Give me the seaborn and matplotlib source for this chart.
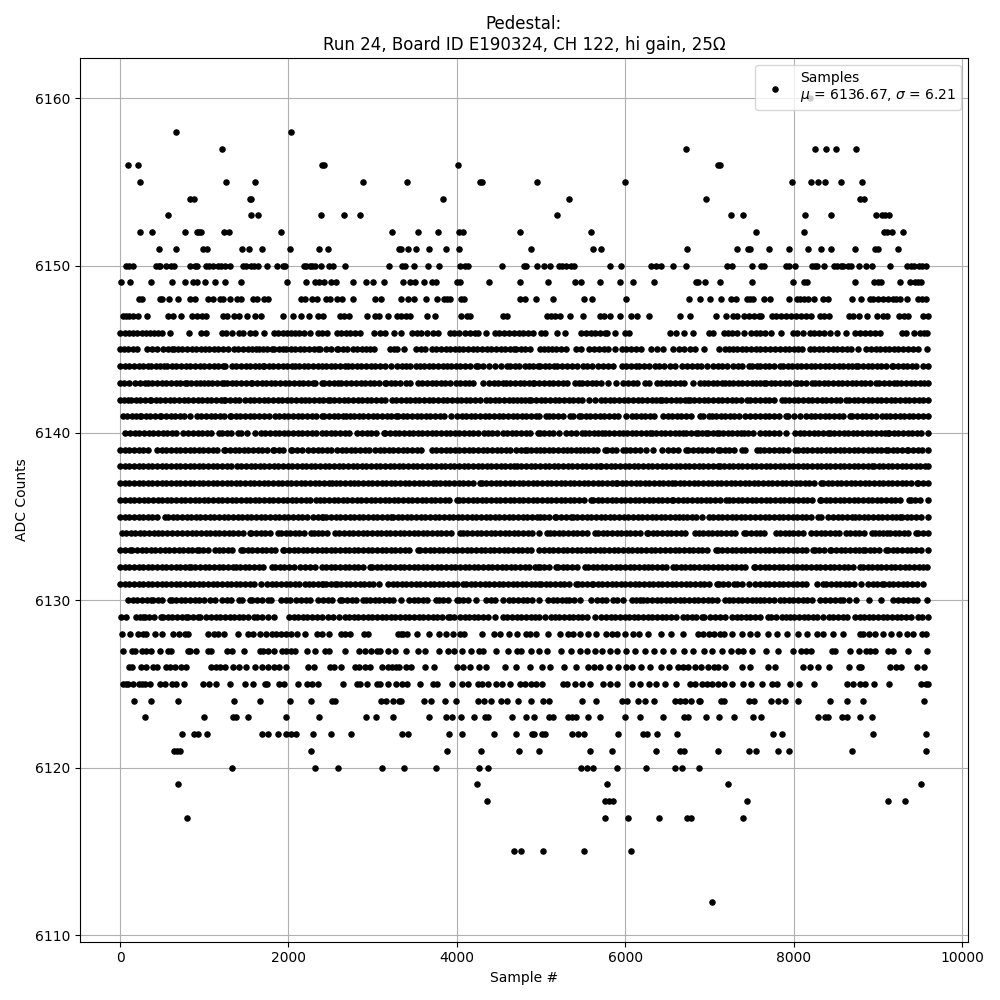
#imports
import matplotlib
matplotlib.use("Agg")
import matplotlib.pyplot as plt
import pandas as pd
import seaborn as sns

# sample numbers, one list per ADC level
# the solid bands (6129-6147) are read as visible runs, so fewer dots than the real samples
x_6160 = [8197]
x_6158 = [668, 2024]
x_6157 = [1208, 6725, 8246, 8377, 8496, 8734]
x_6156 = [92, 212, 2400, 2425, 4012, 7100, 7125]
x_6155 = [236, 1256, 1600, 2880, 3405, 4270, 4294, 4952, 6000, 7972, 8198, 8282, 8365, 8555, 8805]
x_6154 = [832, 884, 1540, 1560, 3833, 5333, 6960, 8782, 8829]
x_6153 = [572, 1556, 1640, 2384, 2656, 2848, 5190, 7258, 7401, 8127, 8436, 8972, 9044, 9080, 9127]
x_6152 = [236, 380, 776, 912, 936, 964, 1232, 1296, 1916, 3224, 3536, 3774, 4024, 4071, 4750, 5595,
          7556, 8115, 9067, 9103, 9166, 9294]
x_6151 = [464, 668, 984, 1032, 1448, 1532, 1688, 2012, 2360, 2468, 3308, 3340, 3417, 3512, 3667, 3869,
          4024, 4881, 5619, 5714, 6726, 7329, 7460, 7484, 7710, 7937, 8163, 8317, 8436, 8722, 8960, 8996, 9234]
x_6150 = [72, 112, 152, 432, 460, 480, 548, 608, 636, 836, 892, 916, 1016, 1052, 1104, 1164, 1200, 1244, 1300,
          1460, 1496, 1556, 1588, 1636, 1740, 1868, 1932, 1956, 2180, 2212, 2252, 2284, 2320, 2384, 2480, 2532,
          2672, 3188, 3349, 3389, 3488, 3655, 3786, 4036, 4099, 4135, 4536, 4798, 4821, 4952, 5036, 5107, 5214,
          5250, 5298, 5349, 5385, 5821, 5952, 6309, 6369, 6428, 6571, 6722, 7210, 7270, 7508, 7615, 7651, 7901,
          7937, 8008, 8210, 8246, 8270, 8353, 8472, 8508, 8555, 8579, 8639, 8675, 8770, 8853, 8925, 9139, 9341,
          9389, 9425, 9484, 9520, 9568]
x_6149 = [12, 120, 368, 620, 776, 868, 916, 1004, 1124, 1244, 1436, 1988, 2204, 2312, 2360, 2420, 2504, 2564,
          2768, 2924, 3008, 3128, 3357, 3440, 3500, 3607, 3702, 3750, 4000, 4036, 4381, 4750, 5083, 5405, 5476,
          5702, 5940, 6095, 6345, 6841, 6865, 6948, 7127, 7508, 7984, 8115, 8151, 8722, 8948, 8996, 9032, 9258,
          9377, 9437, 9472, 9508]
x_6148 = [224, 256, 472, 500, 584, 692, 836, 888, 1040, 1104, 1184, 1220, 1304, 1384, 1432, 1580, 1632, 1712,
          1756, 2152, 2192, 2276, 2336, 2440, 2488, 2576, 2640, 2768, 3032, 3104, 3337, 3417, 3488, 3631, 3762,
          3845, 3881, 3917, 4048, 4083, 4750, 4810, 4940, 5143, 5512, 5607, 6012, 6758, 6889, 7008, 7139, 7258,
          7317, 7448, 7484, 7520, 7651, 7722, 7937, 8032, 8067, 8115, 8163, 8234, 8341, 8401, 8686, 8794, 8901,
          8936, 8996, 9056, 9115, 9175, 9210, 9258, 9341, 9472, 9520, 9568]
x_6147 = [32, 72, 112, 152, 212, 320, 572, 624, 728, 860, 912, 972, 1016, 1220, 1272, 1352, 1412, 1512, 1604,
          1676, 1940, 2048, 2144, 2240, 2352, 2412, 2609, 2656, 2720, 2933, 3024, 3075, 3182, 3288, 3340, 3399,
          3446, 3644, 3739, 4047, 4118, 4153, 4545, 4592, 5069, 5121, 5169, 5220, 5343, 5498, 5697, 5748, 5820,
          5939, 6070, 6137, 6284, 6653, 6761, 7070, 7189, 7273, 7324, 7404, 7463, 7523, 7582, 7612, 7739, 7790,
          7850, 7910, 7969, 8029, 8088, 8148, 8207, 8307, 8358, 8418, 8656, 8704, 8775, 8870, 8989, 9053, 9108,
          9251, 9307, 9359, 9529, 9589]
x_6146 = [5, 55, 105, 155, 205, 255, 305, 355, 405, 450, 500, 596, 816, 960, 1024, 1212, 1260, 1332, 1412, 1464,
          1544, 1600, 1712, 1832, 1880, 1930, 1985, 2030, 2072, 2130, 2190, 2250, 2352, 2392, 2459, 2577, 2625,
          2680, 2727, 2787, 2854, 3012, 3083, 3142, 3249, 3340, 3470, 3520, 3577, 3644, 3715, 3778, 3913, 3970,
          4030, 4090, 4150, 4210, 4248, 4339, 4446, 4500, 4560, 4620, 4680, 4734, 4781, 4840, 4900, 5002, 5042,
          5192, 5284, 5478, 5530, 5590, 5640, 5700, 5760, 5776, 5871, 5990, 6046, 6530, 6602, 6697, 6800, 6987,
          7038, 7166, 7215, 7270, 7330, 7404, 7491, 7550, 7602, 7660, 7730, 7850, 7989, 8040, 8108, 8187, 8240,
          8300, 8360, 8430, 8517, 8624, 8723, 8780, 8840, 8900, 8960, 9020, 9280, 9330, 9426, 9498, 9540, 9585]
x_6145 = [0, 50, 100, 150, 200, 320, 380, 440, 512, 565, 612, 640, 690, 732, 792, 850, 905, 960, 1010, 1052, 1112,
          1165, 1220, 1280, 1352, 1404, 1460, 1515, 1570, 1612, 1644, 1700, 1750, 1800, 1832, 1885, 1932, 1972,
          2025, 2080, 2135, 2190, 2245, 2300, 2352, 2372, 2443, 2502, 2570, 2590, 2645, 2700, 2767, 2814, 2870,
          2920, 2965, 3012, 3201, 3250, 3292, 3367, 3517, 3570, 3616, 3703, 3755, 3810, 3865, 3920, 3975, 4030,
          4070, 4130, 4185, 4240, 4300, 4359, 4410, 4465, 4520, 4575, 4630, 4683, 4702, 4755, 4810, 4868, 4982,
          5035, 5081, 5133, 5172, 5235, 5300, 5411, 5478, 5570, 5625, 5685, 5744, 5788, 5879, 5955, 6010, 6065,
          6120, 6181, 6300, 6370, 6443, 6570, 6641, 6700, 6765, 6828, 6939, 7110, 7185, 7235, 7277, 7324, 7380,
          7435, 7490, 7545, 7602, 7660, 7720, 7775, 7830, 7898, 7941, 8000, 8050, 8100, 8187, 8240, 8295, 8350,
          8405, 8460, 8515, 8570, 8625, 8680, 8763, 8862, 8915, 8970, 9025, 9080, 9135, 9190, 9240, 9300, 9360,
          9420, 9478, 9577]
x_6144 = [0, 55, 110, 165, 220, 275, 332, 372, 425, 480, 524, 560, 615, 670, 725, 780, 835, 890, 945, 1000, 1055,
          1110, 1165, 1220, 1252, 1324, 1380, 1435, 1490, 1545, 1600, 1655, 1692, 1712, 1765, 1820, 1875, 1930,
          1985, 2040, 2072, 2125, 2180, 2235, 2290, 2345, 2392, 2445, 2500, 2555, 2610, 2665, 2708, 2755, 2810,
          2865, 2920, 2975, 3030, 3085, 3150, 3213, 3288, 3345, 3399, 3438, 3510, 3557, 3610, 3665, 3720, 3775,
          3830, 3885, 3932, 3984, 4040, 4095, 4150, 4228, 4248, 4310, 4375, 4446, 4525, 4592, 4631, 4690, 4742,
          4813, 4860, 4900, 4959, 4982, 5040, 5095, 5150, 5188, 5252, 5310, 5365, 5420, 5498, 5546, 5609, 5677,
          5735, 5790, 5855, 5955, 6010, 6065, 6120, 6161, 6225, 6285, 6352, 6403, 6460, 6525, 6590, 6677, 6735,
          6790, 6845, 6896, 6967, 7038, 7095, 7150, 7210, 7277, 7332, 7390, 7463, 7503, 7560, 7602, 7655, 7710,
          7770, 7830, 7870, 7925, 7980, 8035, 8090, 8145, 8200, 8255, 8310, 8365, 8420, 8475, 8530, 8585, 8640,
          8695, 8743, 8763, 8820, 8875, 8930, 8985, 9040, 9095, 9160, 9180, 9235, 9290, 9345, 9400, 9455, 9529, 9589]
x_6143 = [0, 52, 112, 172, 232, 292, 332, 385, 440, 495, 550, 605, 660, 715, 772, 792, 845, 900, 955, 1000, 1040,
          1095, 1150, 1205, 1240, 1272, 1325, 1380, 1435, 1490, 1552, 1572, 1625, 1680, 1735, 1790, 1845, 1900,
          1955, 2010, 2065, 2120, 2175, 2230, 2292, 2312, 2392, 2425, 2480, 2535, 2590, 2629, 2688, 2747, 2800,
          2855, 2910, 2965, 3020, 3075, 3142, 3162, 3215, 3270, 3325, 3399, 3438, 3537, 3590, 3645, 3700, 3755,
          3810, 3853, 3913, 3991, 4039, 4095, 4142, 4189, 4315, 4379, 4435, 4490, 4545, 4584, 4635, 4690, 4745,
          4800, 4855, 4900, 4920, 4980, 5035, 5090, 5145, 5200, 5255, 5310, 5399, 5450, 5490, 5545, 5600, 5655,
          5710, 5796, 5887, 5975, 6030, 6085, 6140, 6232, 6284, 6371, 6425, 6480, 6535, 6590, 6645, 6697, 6808,
          6880, 6935, 6979, 7035, 7090, 7145, 7185, 7225, 7280, 7335, 7390, 7445, 7500, 7555, 7602, 7651, 7671,
          7725, 7780, 7835, 7890, 7945, 8009, 8037, 8090, 8145, 8219, 8247, 8300, 8355, 8410, 8465, 8520, 8575,
          8630, 8685, 8740, 8795, 8850, 8905, 8981, 9013, 9070, 9125, 9192, 9220, 9275, 9330, 9385, 9440, 9495, 9550, 9589]
x_6142 = [0, 50, 92, 132, 185, 240, 295, 352, 372, 425, 480, 535, 590, 645, 700, 755, 810, 865, 920, 975, 1030,
          1085, 1140, 1195, 1232, 1252, 1305, 1360, 1415, 1484, 1540, 1595, 1650, 1705, 1760, 1815, 1870, 1925,
          1980, 2035, 2090, 2145, 2200, 2240, 2304, 2360, 2415, 2471, 2490, 2545, 2600, 2655, 2710, 2765, 2820,
          2875, 2930, 2985, 3040, 3095, 3150, 3229, 3280, 3335, 3390, 3445, 3500, 3555, 3610, 3665, 3720, 3775,
          3830, 3885, 3940, 3995, 4050, 4105, 4160, 4215, 4270, 4339, 4394, 4450, 4505, 4560, 4615, 4670, 4710,
          4762, 4810, 4853, 4884, 4940, 4995, 5050, 5105, 5160, 5215, 5270, 5325, 5380, 5435, 5490, 5570, 5637,
          5705, 5760, 5815, 5870, 5925, 5980, 6035, 6090, 6145, 6200, 6255, 6310, 6365, 6411, 6431, 6485, 6540,
          6595, 6650, 6705, 6749, 6768, 6820, 6875, 6930, 6985, 7040, 7095, 7150, 7205, 7260, 7315, 7370, 7443,
          7483, 7540, 7602, 7655, 7710, 7765, 7862, 7890, 7945, 8000, 8055, 8110, 8165, 8220, 8275, 8330, 8385,
          8440, 8495, 8550, 8624, 8656, 8710, 8765, 8820, 8875, 8930, 8985, 9040, 9095, 9150, 9205, 9260, 9315,
          9370, 9425, 9480, 9535, 9589]
x_6141 = [32, 85, 140, 195, 232, 252, 305, 360, 415, 472, 492, 545, 600, 655, 710, 765, 832, 912, 965, 1020, 1075,
          1130, 1185, 1240, 1300, 1320, 1375, 1430, 1485, 1540, 1595, 1650, 1705, 1772, 1844, 1892, 1945, 2000,
          2055, 2110, 2165, 2220, 2275, 2330, 2392, 2425, 2480, 2535, 2590, 2645, 2688, 2727, 2780, 2835, 2890,
          2945, 3000, 3055, 3110, 3165, 3220, 3280, 3300, 3355, 3410, 3465, 3520, 3575, 3630, 3685, 3740, 3795,
          3850, 3932, 4003, 4055, 4110, 4165, 4220, 4275, 4330, 4385, 4440, 4495, 4550, 4605, 4660, 4715, 4770,
          4825, 4880, 4935, 4980, 5061, 5093, 5145, 5200, 5255, 5347, 5379, 5450, 5478, 5530, 5585, 5640, 5695,
          5750, 5805, 5860, 5915, 6006, 6074, 6125, 6180, 6235, 6290, 6345, 6443, 6502, 6555, 6610, 6665, 6720,
          6775, 6888, 6927, 6987, 7026, 7074, 7130, 7185, 7240, 7295, 7352, 7423, 7480, 7535, 7602, 7655, 7710,
          7765, 7820, 7902, 7929, 8000, 8076, 8148, 8200, 8255, 8310, 8365, 8420, 8475, 8530, 8585, 8672, 8696,
          8750, 8805, 8860, 8915, 8970, 9041, 9093, 9145, 9200, 9255, 9310, 9365, 9420, 9475, 9530, 9589]
x_6140 = [64, 120, 175, 230, 285, 340, 395, 450, 505, 560, 615, 670, 752, 812, 865, 920, 975, 1030, 1085, 1172,
          1212, 1265, 1320, 1400, 1432, 1512, 1600, 1672, 1725, 1780, 1835, 1890, 1944, 2000, 2055, 2110, 2165,
          2220, 2275, 2330, 2392, 2445, 2500, 2555, 2610, 2665, 2720, 2814, 2878, 2930, 2985, 3040, 3130, 3150,
          3205, 3260, 3315, 3370, 3425, 3480, 3535, 3590, 3645, 3700, 3755, 3810, 3865, 3920, 3975, 4030, 4085,
          4140, 4195, 4250, 4327, 4367, 4420, 4475, 4544, 4596, 4650, 4705, 4760, 4815, 4870, 4959, 4982, 5035,
          5090, 5145, 5212, 5300, 5355, 5410, 5490, 5518, 5570, 5625, 5680, 5724, 5756, 5810, 5865, 5927, 5967,
          6020, 6075, 6130, 6185, 6240, 6292, 6312, 6365, 6420, 6475, 6530, 6585, 6640, 6689, 6717, 6775, 6840,
          6860, 6915, 6955, 6979, 7035, 7086, 7106, 7160, 7215, 7270, 7325, 7372, 7404, 7460, 7515, 7602, 7655,
          7710, 7765, 7820, 7902, 8013, 8070, 8125, 8180, 8235, 8290, 8345, 8406, 8426, 8480, 8535, 8590, 8645,
          8700, 8755, 8810, 8865, 8920, 8975, 9030, 9085, 9120, 9132, 9185, 9240, 9295, 9350, 9405, 9460, 9515, 9589]
x_6139 = [0, 55, 110, 165, 220, 275, 332, 440, 495, 550, 605, 660, 715, 770, 825, 880, 935, 990, 1045, 1100, 1155,
          1232, 1252, 1305, 1360, 1415, 1470, 1525, 1580, 1635, 1690, 1745, 1812, 1832, 1885, 1940, 2024, 2044,
          2100, 2155, 2232, 2292, 2345, 2392, 2459, 2510, 2577, 2630, 2685, 2740, 2795, 2850, 2905, 2960, 3024,
          3083, 3135, 3190, 3245, 3300, 3355, 3410, 3465, 3525, 3569, 3703, 3755, 3810, 3865, 3920, 3975, 4030,
          4085, 4140, 4195, 4250, 4305, 4360, 4415, 4470, 4525, 4580, 4635, 4702, 4760, 4809, 4829, 4885, 4940,
          4982, 5035, 5090, 5145, 5200, 5255, 5310, 5359, 5411, 5465, 5510, 5558, 5610, 5665, 5756, 5784, 5836,
          5890, 5975, 6006, 6060, 6115, 6170, 6244, 6332, 6431, 6510, 6565, 6620, 6721, 6749, 6805, 6860, 6915,
          6970, 7025, 7098, 7126, 7180, 7235, 7290, 7384, 7423, 7563, 7602, 7650, 7699, 7763, 7820, 7875, 7930,
          8009, 8049, 8105, 8160, 8215, 8270, 8325, 8380, 8435, 8490, 8545, 8600, 8655, 8710, 8765, 8820, 8875,
          8930, 8985, 9040, 9093, 9120, 9175, 9230, 9285, 9339, 9359, 9415, 9470, 9525, 9589]
x_6138 = [0, 55, 110, 165, 220, 275, 330, 385, 440, 495, 550, 605, 660, 715, 770, 825, 880, 935, 990, 1045, 1100,
          1155, 1210, 1264, 1312, 1384, 1440, 1495, 1550, 1605, 1660, 1715, 1770, 1825, 1880, 1935, 1990, 2045,
          2100, 2155, 2210, 2265, 2320, 2375, 2430, 2485, 2540, 2595, 2650, 2705, 2760, 2815, 2870, 2925, 2980,
          3035, 3090, 3145, 3200, 3255, 3310, 3365, 3420, 3475, 3530, 3585, 3640, 3695, 3750, 3805, 3860, 3915,
          3970, 4025, 4080, 4135, 4190, 4245, 4300, 4355, 4410, 4465, 4520, 4575, 4630, 4683, 4710, 4765, 4820,
          4875, 4930, 4985, 5040, 5095, 5150, 5205, 5260, 5315, 5370, 5425, 5480, 5535, 5590, 5645, 5697, 5716,
          5770, 5825, 5880, 5935, 5990, 6045, 6100, 6155, 6210, 6265, 6320, 6375, 6430, 6485, 6540, 6595, 6650,
          6705, 6760, 6815, 6870, 6925, 6980, 7035, 7094, 7118, 7170, 7225, 7280, 7335, 7390, 7445, 7500, 7555,
          7610, 7665, 7720, 7775, 7830, 7885, 7940, 7995, 8050, 8105, 8160, 8215, 8270, 8325, 8380, 8435, 8490,
          8545, 8600, 8655, 8710, 8765, 8820, 8875, 8922, 8950, 9005, 9060, 9115, 9170, 9225, 9280, 9335, 9390,
          9445, 9500, 9555, 9589]
x_6137 = [0, 55, 110, 165, 220, 275, 330, 385, 440, 495, 550, 605, 660, 715, 770, 825, 880, 935, 990, 1045, 1100,
          1155, 1210, 1265, 1320, 1375, 1430, 1485, 1540, 1595, 1650, 1705, 1760, 1815, 1870, 1925, 1980, 2035,
          2090, 2145, 2200, 2255, 2310, 2365, 2420, 2475, 2522, 2562, 2615, 2670, 2727, 2775, 2830, 2885, 2940,
          2995, 3050, 3105, 3160, 3215, 3270, 3325, 3380, 3435, 3490, 3545, 3600, 3655, 3715, 3747, 3800, 3855,
          3910, 3965, 4020, 4075, 4130, 4185, 4268, 4296, 4350, 4405, 4460, 4515, 4570, 4625, 4680, 4735, 4790,
          4845, 4900, 4955, 5010, 5065, 5120, 5175, 5230, 5285, 5340, 5395, 5450, 5505, 5560, 5615, 5670, 5725,
          5780, 5835, 5887, 5903, 5955, 6010, 6065, 6120, 6175, 6230, 6285, 6340, 6395, 6450, 6505, 6550, 6590,
          6645, 6700, 6755, 6810, 6865, 6920, 6975, 7030, 7085, 7140, 7195, 7250, 7305, 7360, 7415, 7470, 7525,
          7580, 7635, 7690, 7745, 7800, 7855, 7910, 7965, 8020, 8075, 8130, 8185, 8240, 8326, 8346, 8400, 8455,
          8510, 8565, 8620, 8675, 8730, 8785, 8840, 8895, 8950, 9005, 9060, 9115, 9170, 9225, 9280, 9335, 9390,
          9458, 9478, 9530, 9589]
x_6136 = [4, 60, 115, 170, 225, 280, 335, 390, 445, 500, 555, 610, 665, 720, 775, 830, 885, 940, 995, 1050, 1105,
          1160, 1215, 1270, 1325, 1380, 1435, 1490, 1545, 1600, 1655, 1710, 1765, 1820, 1875, 1930, 1985, 2040,
          2095, 2150, 2205, 2260, 2332, 2372, 2425, 2480, 2535, 2590, 2645, 2700, 2755, 2810, 2865, 2920, 2975,
          3030, 3085, 3140, 3195, 3250, 3305, 3360, 3415, 3470, 3525, 3580, 3635, 3690, 3745, 3800, 3855, 3910,
          4003, 4023, 4075, 4130, 4185, 4240, 4295, 4350, 4405, 4460, 4515, 4570, 4625, 4680, 4735, 4790, 4845,
          4900, 4955, 5010, 5065, 5120, 5175, 5230, 5285, 5340, 5395, 5450, 5505, 5597, 5617, 5670, 5725, 5780,
          5835, 5890, 5945, 6000, 6055, 6110, 6165, 6220, 6275, 6330, 6385, 6440, 6495, 6550, 6570, 6625, 6680,
          6735, 6790, 6845, 6900, 6955, 7010, 7065, 7120, 7193, 7225, 7280, 7335, 7390, 7445, 7500, 7555, 7610,
          7665, 7720, 7775, 7830, 7885, 7940, 7995, 8050, 8105, 8160, 8215, 8307, 8326, 8380, 8435, 8490, 8545,
          8600, 8655, 8710, 8765, 8820, 8875, 8930, 8985, 9040, 9095, 9150, 9205, 9260, 9366, 9386, 9440, 9495, 9589]
x_6135 = [0, 55, 110, 165, 220, 275, 330, 385, 440, 532, 572, 625, 680, 735, 790, 845, 900, 955, 1010, 1065, 1120,
          1175, 1230, 1285, 1340, 1395, 1450, 1505, 1560, 1615, 1670, 1725, 1780, 1835, 1890, 1945, 2000, 2055,
          2110, 2165, 2220, 2292, 2352, 2392, 2411, 2451, 2505, 2560, 2615, 2670, 2725, 2780, 2835, 2890, 2945,
          3000, 3055, 3110, 3165, 3221, 3241, 3295, 3350, 3405, 3460, 3515, 3570, 3625, 3680, 3735, 3790, 3845,
          3900, 3955, 4010, 4065, 4120, 4175, 4230, 4285, 4340, 4395, 4450, 4505, 4560, 4615, 4670, 4725, 4780,
          4835, 4890, 4945, 4982, 5035, 5090, 5161, 5180, 5235, 5290, 5359, 5379, 5430, 5485, 5540, 5595, 5650,
          5705, 5760, 5815, 5870, 5925, 5980, 6035, 6090, 6145, 6200, 6255, 6310, 6365, 6420, 6475, 6530, 6585,
          6640, 6689, 6729, 6785, 6840, 6915, 6987, 7040, 7095, 7150, 7205, 7260, 7315, 7370, 7425, 7480, 7535,
          7602, 7655, 7710, 7765, 7820, 7875, 7930, 7985, 8040, 8095, 8150, 8205, 8287, 8326, 8406, 8465, 8520,
          8575, 8630, 8685, 8731, 8775, 8830, 8885, 8940, 8995, 9050, 9105, 9160, 9215, 9260, 9287, 9340, 9395,
          9450, 9505, 9589]
x_6134 = [20, 72, 125, 180, 235, 290, 345, 400, 452, 504, 560, 615, 680, 740, 795, 850, 905, 960, 1015, 1070, 1125,
          1180, 1235, 1290, 1345, 1400, 1455, 1544, 1560, 1615, 1670, 1725, 1780, 1872, 1912, 1965, 2020, 2075,
          2130, 2185, 2272, 2300, 2355, 2392, 2459, 2550, 2605, 2660, 2715, 2770, 2825, 2880, 2935, 2990, 3045,
          3100, 3155, 3210, 3265, 3320, 3375, 3430, 3485, 3540, 3595, 3650, 3705, 3760, 3815, 3870, 3925, 4031,
          4070, 4125, 4180, 4235, 4290, 4345, 4400, 4455, 4510, 4565, 4620, 4675, 4730, 4785, 4840, 4895, 4980,
          5069, 5101, 5155, 5210, 5265, 5320, 5375, 5430, 5485, 5540, 5637, 5677, 5730, 5785, 5840, 5895, 5950,
          6005, 6060, 6115, 6170, 6252, 6272, 6325, 6380, 6435, 6490, 6545, 6600, 6655, 6710, 6828, 6868, 6920,
          6975, 7030, 7085, 7140, 7195, 7250, 7305, 7404, 7435, 7490, 7545, 7602, 7640, 7790, 7840, 7890, 7941,
          7995, 8050, 8105, 8207, 8267, 8320, 8375, 8430, 8485, 8540, 8624, 8664, 8720, 8775, 8830, 8922, 8962,
          9013, 9060, 9108, 9140, 9195, 9250, 9305, 9360, 9450, 9478, 9530, 9589]
x_6133 = [0, 55, 120, 144, 200, 255, 310, 365, 420, 475, 530, 585, 640, 695, 750, 805, 860, 912, 932, 985, 1040,
          1132, 1172, 1225, 1280, 1335, 1432, 1460, 1515, 1570, 1625, 1680, 1735, 1790, 1845, 1932, 1952, 2005,
          2060, 2115, 2170, 2225, 2280, 2335, 2392, 2445, 2500, 2555, 2610, 2665, 2720, 2775, 2830, 2885, 2940,
          2995, 3050, 3105, 3160, 3215, 3270, 3325, 3380, 3435, 3537, 3565, 3620, 3675, 3730, 3785, 3840, 3895,
          3950, 4005, 4060, 4115, 4170, 4225, 4280, 4335, 4390, 4445, 4500, 4555, 4610, 4665, 4720, 4775, 4830,
          4885, 4980, 5035, 5090, 5145, 5200, 5255, 5310, 5365, 5420, 5475, 5530, 5585, 5640, 5695, 5750, 5805,
          5860, 5915, 5970, 6025, 6080, 6135, 6190, 6245, 6300, 6355, 6410, 6465, 6530, 6590, 6641, 6695, 6750,
          6805, 6860, 6915, 6970, 7074, 7098, 7150, 7205, 7260, 7315, 7370, 7425, 7480, 7535, 7602, 7655, 7710,
          7765, 7820, 7875, 7930, 7985, 8040, 8095, 8150, 8227, 8247, 8300, 8355, 8426, 8446, 8500, 8555, 8610,
          8665, 8720, 8775, 8823, 8847, 8900, 8955, 9010, 9093, 9120, 9175, 9230, 9285, 9340, 9395, 9450, 9505, 9589]
x_6132 = [0, 55, 110, 165, 220, 275, 330, 385, 440, 495, 550, 605, 660, 715, 770, 820, 840, 895, 950, 1005, 1060,
          1115, 1170, 1225, 1280, 1344, 1372, 1425, 1480, 1535, 1590, 1645, 1700, 1800, 1840, 1895, 1950, 2005,
          2060, 2140, 2200, 2255, 2310, 2392, 2445, 2500, 2555, 2610, 2665, 2720, 2775, 2830, 2885, 2964, 2992,
          3045, 3100, 3155, 3210, 3265, 3320, 3375, 3430, 3485, 3540, 3595, 3650, 3705, 3760, 3815, 3870, 3925,
          3980, 4035, 4090, 4145, 4200, 4255, 4310, 4365, 4420, 4475, 4530, 4585, 4640, 4695, 4750, 4805, 4860,
          4932, 4959, 4982, 5035, 5090, 5180, 5200, 5255, 5310, 5365, 5420, 5526, 5558, 5610, 5665, 5720, 5775,
          5830, 5885, 5940, 5995, 6050, 6105, 6160, 6215, 6272, 6320, 6375, 6430, 6485, 6570, 6602, 6655, 6710,
          6765, 6820, 6875, 6930, 6985, 7040, 7095, 7150, 7205, 7260, 7315, 7370, 7425, 7523, 7543, 7602, 7655,
          7710, 7765, 7820, 7875, 7930, 7985, 8040, 8095, 8150, 8205, 8260, 8315, 8370, 8425, 8480, 8535, 8590,
          8645, 8700, 8791, 8823, 8875, 8930, 8985, 9040, 9095, 9150, 9205, 9260, 9315, 9370, 9425, 9480, 9537, 9577]
x_6131 = [0, 55, 110, 165, 220, 275, 330, 385, 440, 495, 550, 605, 660, 715, 770, 825, 880, 935, 990, 1045, 1100,
          1155, 1210, 1265, 1320, 1375, 1430, 1485, 1540, 1595, 1672, 1744, 1800, 1855, 1910, 1965, 2020, 2075,
          2130, 2200, 2240, 2295, 2350, 2392, 2411, 2443, 2500, 2550, 2570, 2625, 2680, 2735, 2790, 2845, 2900,
          2955, 3004, 3075, 3182, 3235, 3290, 3345, 3400, 3455, 3510, 3565, 3620, 3675, 3730, 3785, 3840, 3895,
          3950, 4005, 4070, 4110, 4165, 4220, 4275, 4330, 4385, 4440, 4495, 4550, 4605, 4660, 4715, 4774, 4821,
          4875, 4930, 4980, 5002, 5055, 5110, 5165, 5220, 5275, 5330, 5419, 5438, 5490, 5545, 5605, 5617, 5670,
          5725, 5780, 5835, 5890, 5945, 6000, 6055, 6110, 6165, 6220, 6275, 6330, 6385, 6440, 6495, 6550, 6605,
          6660, 6715, 6770, 6825, 6880, 6935, 6990, 7086, 7106, 7160, 7215, 7285, 7324, 7380, 7463, 7543, 7602,
          7655, 7710, 7765, 7820, 7875, 7930, 7985, 8040, 8095, 8148, 8275, 8346, 8386, 8440, 8495, 8550, 8605,
          8660, 8715, 8803, 8882, 8935, 8990, 9041, 9069, 9125, 9180, 9235, 9290, 9345, 9400, 9458, 9537]
x_6130 = [92, 152, 205, 260, 315, 364, 392, 445, 500, 592, 612, 665, 720, 775, 830, 885, 940, 995, 1072, 1124, 1212,
          1265, 1320, 1412, 1452, 1540, 1572, 1625, 1680, 1752, 1792, 1912, 1965, 2020, 2092, 2152, 2205, 2260,
          2352, 2411, 2465, 2520, 2609, 2640, 2695, 2750, 2805, 2885, 2917, 2970, 3025, 3080, 3135, 3190, 3245,
          3340, 3430, 3485, 3540, 3595, 3650, 3747, 3786, 3840, 3895, 4000, 4023, 4075, 4130, 4221, 4347, 4400,
          4455, 4544, 4616, 4670, 4725, 4780, 4835, 4890, 4980, 5081, 5135, 5190, 5245, 5300, 5331, 5385, 5466,
          5597, 5665, 5720, 5775, 5855, 5895, 5966, 6074, 6125, 6173, 6205, 6260, 6315, 6370, 6425, 6480, 6535,
          6590, 6645, 6700, 6755, 6810, 6865, 6920, 6975, 7030, 7085, 7185, 7225, 7280, 7335, 7390, 7445, 7500,
          7555, 7602, 7650, 7700, 7770, 7830, 7885, 7940, 7995, 8050, 8105, 8160, 8215, 8307, 8366, 8434, 8490,
          8545, 8584, 8656, 8743, 8890, 9033, 9180, 9235, 9291, 9359, 9415, 9466, 9577]
x_6129 = [12, 72, 184, 235, 272, 292, 345, 400, 492, 512, 565, 620, 675, 730, 784, 812, 865, 920, 952, 1024, 1080,
          1135, 1190, 1245, 1300, 1355, 1410, 1465, 1520, 1592, 1632, 1690, 1752, 1824, 2004, 2060, 2115, 2170,
          2225, 2280, 2335, 2392, 2471, 2530, 2601, 2668, 2720, 2775, 2830, 2885, 2940, 2995, 3050, 3105, 3160,
          3215, 3270, 3325, 3380, 3435, 3490, 3545, 3600, 3655, 3710, 3765, 3820, 3893, 3913, 3970, 4031, 4090,
          4145, 4200, 4248, 4308, 4367, 4446, 4544, 4600, 4655, 4710, 4765, 4820, 4875, 4930, 4980, 5040, 5121,
          5161, 5215, 5270, 5325, 5380, 5435, 5490, 5545, 5637, 5716, 5770, 5825, 5880, 5935, 5990, 6045, 6100,
          6155, 6210, 6265, 6320, 6375, 6430, 6485, 6540, 6595, 6689, 6729, 6785, 6840, 6907, 6939, 7007, 7066,
          7120, 7185, 7263, 7320, 7375, 7430, 7485, 7540, 7602, 7691, 7731, 7790, 7862, 7902, 7957, 8001, 8060,
          8115, 8170, 8225, 8280, 8346, 8414, 8470, 8525, 8580, 8635, 8723, 8783, 8835, 8890, 8945, 9000, 9055,
          9110, 9165, 9220, 9275, 9330, 9385, 9478, 9517, 9589]
x_6128 = [20, 120, 212, 272, 308, 416, 500, 632, 704, 776, 812, 1040, 1112, 1160, 1232, 1400, 1520, 1580, 1664,
          1736, 1808, 1856, 1916, 1976, 2024, 2096, 2192, 2336, 2396, 2480, 2624, 2672, 2732, 2900, 2948, 3296,
          3332, 3357, 3405, 3524, 3667, 3786, 3869, 3952, 4036, 4083, 4298, 4440, 4512, 4619, 4714, 4821, 4869,
          4940, 5083, 5218, 5321, 5381, 5464, 5560, 5655, 5774, 5845, 5905, 6000, 6095, 6167, 6274, 6417, 6536,
          6678, 6857, 6925, 6996, 7056, 7127, 7175, 7270, 7389, 7484, 7567, 7698, 7794, 7913, 8044, 8151, 8270,
          8341, 8460, 8579, 8782, 8817, 8889, 8960, 9056, 9151, 9246, 9341, 9413, 9520, 9567]
x_6127 = [32, 140, 176, 260, 308, 368, 476, 572, 608, 812, 836, 896, 1040, 1076, 1268, 1328, 1472, 1664, 1700,
          1760, 1832, 1928, 1976, 2024, 2072, 2216, 2312, 2432, 2480, 2668, 2840, 2912, 2984, 3056, 3092, 3176,
          3260, 3393, 3536, 3619, 3786, 3893, 3964, 4060, 4167, 4262, 4309, 4464, 4607, 4714, 4762, 4881, 4976,
          5071, 5238, 5357, 5464, 5548, 5643, 5726, 5821, 5905, 6012, 6119, 6238, 6345, 6452, 6571, 6698, 6806,
          6937, 7032, 7151, 7258, 7341, 7401, 7508, 7675, 7806, 7984, 8079, 8139, 8198, 8448, 8484, 8663, 8770,
          8853, 8901, 8960, 9115, 9175, 9353, 9579]
x_6126 = [104, 140, 248, 308, 392, 440, 548, 596, 656, 728, 788, 1076, 1136, 1184, 1244, 1340, 1412, 1496, 1604,
          1688, 1760, 1832, 1892, 1976, 2228, 2300, 2492, 2540, 2624, 2792, 2840, 2912, 2972, 3116, 3176, 3224,
          3272, 3317, 3397, 3452, 3619, 3726, 4000, 4071, 4155, 4262, 4345, 4571, 4702, 4869, 5012, 5107, 5274,
          5417, 5560, 5631, 5702, 5810, 5917, 6012, 6083, 6190, 6297, 6417, 6512, 6619, 6687, 6746, 6829, 6901,
          6984, 7056, 7103, 7187, 7389, 7484, 7698, 7782, 8103, 8186, 8282, 8413, 8651, 8770, 8794, 9139, 9210,
          9270, 9460, 9544]
x_6125 = [32, 72, 92, 152, 224, 260, 296, 356, 476, 536, 620, 668, 760, 980, 1052, 1136, 1300, 1484, 1580, 1724,
          1748, 1892, 1952, 2108, 2216, 2276, 2348, 2644, 2816, 2852, 2936, 3056, 3092, 3176, 3272, 3345, 3405,
          3560, 3714, 3762, 3940, 4060, 4131, 4250, 4298, 4369, 4464, 4536, 4631, 4750, 4810, 4881, 4940, 5012,
          5262, 5310, 5405, 5488, 5583, 5738, 5821, 5905, 6083, 6178, 6286, 6369, 6476, 6595, 6762, 6821, 6913,
          6972, 7032, 7103, 7175, 7270, 7401, 7496, 7627, 7746, 7794, 7960, 8056, 8234, 8627, 8698, 8782, 8841,
          8952, 9127, 9508, 9567, 9590]
x_6124 = [164, 368, 692, 1352, 1664, 2012, 2264, 2516, 2552, 3104, 3152, 3236, 3308, 3332, 3607, 3690, 3857, 3988,
          4250, 4321, 4409, 4524, 4595, 4726, 4881, 5024, 5095, 5488, 5655, 5964, 6024, 6155, 6238, 6345, 6583,
          6643, 6702, 6774, 6869, 6889, 7139, 7175, 7472, 7532, 7734, 7817, 7889, 8044, 8425, 8627, 8817, 9544]
x_6123 = [296, 992, 1340, 1376, 1520, 1976, 2360, 2924, 3044, 3236, 3667, 3869, 3940, 4048, 4202, 4333, 4369,
          4655, 4821, 4917, 5095, 5143, 5321, 5369, 5417, 5560, 5702, 6000, 6178, 6452, 6690, 6738, 6960, 7115,
          7294, 7520, 7615, 8282, 8365, 8401, 8567, 8627, 8782, 8925]
x_6122 = [740, 884, 920, 1028, 1688, 1760, 1880, 1976, 2024, 2084, 2288, 2504, 2744, 3345, 3417, 3905, 4060, 4440,
          4702, 4893, 4917, 5012, 5048, 5369, 5440, 5512, 5917, 6214, 6262, 6381, 6607, 7758, 7865, 8936, 9567]
x_6121 = [644, 680, 716, 2264, 3881, 4286, 4738, 4976, 5583, 5845, 6369, 6643, 6690, 7103, 7472, 7556, 7806, 7937,
          8686, 9567]
x_6120 = [1328, 2312, 2588, 3116, 3369, 3750, 4262, 4369, 5476, 5548, 5619, 5905, 6246, 6583, 6667, 6869]
x_6119 = [692, 4238, 5786, 7222, 9508]
x_6118 = [4357, 5762, 5810, 5857, 7448, 9115, 9317]
x_6117 = [800, 5762, 6036, 6393, 6726, 6774, 7401]
x_6115 = [4679, 4762, 5024, 5512, 6071]
x_6112 = [7032]

levels = [6160, 6158, 6157, 6156, 6155, 6154, 6153, 6152, 6151, 6150, 6149, 6148, 6147, 6146, 6145, 6144, 6143,
          6142, 6141, 6140, 6139, 6138, 6137, 6136, 6135, 6134, 6133, 6132, 6131, 6130, 6129, 6128, 6127, 6126,
          6125, 6124, 6123, 6122, 6121, 6120, 6119, 6118, 6117, 6115, 6112]
samples = [x_6160, x_6158, x_6157, x_6156, x_6155, x_6154, x_6153, x_6152, x_6151, x_6150, x_6149, x_6148, x_6147,
           x_6146, x_6145, x_6144, x_6143, x_6142, x_6141, x_6140, x_6139, x_6138, x_6137, x_6136, x_6135, x_6134,
           x_6133, x_6132, x_6131, x_6130, x_6129, x_6128, x_6127, x_6126, x_6125, x_6124, x_6123, x_6122, x_6121,
           x_6120, x_6119, x_6118, x_6117, x_6115, x_6112]

#build the table seaborn wants
df = pd.DataFrame({"sample": [s for row in samples for s in row],
                   "adc": [lev for lev, row in zip(levels, samples) for s in row]})

fig, ax = plt.subplots(figsize=(10, 10))
sns.scatterplot(data=df, x="sample", y="adc", color="black", marker=".", s=60, linewidth=0.8, edgecolor="black",
                zorder=3, label="Samples\n$\\mu$ = 6136.67, $\\sigma$ = 6.21", ax=ax)
ax.set_title("Pedestal:\nRun 24, Board ID E190324, CH 122, hi gain, 25Ω")
ax.set_xlabel("Sample #")
ax.set_ylabel("ADC Counts")
ax.grid(True)
ax.legend(loc="upper right")
plt.tight_layout()
plt.savefig("out.png", dpi=100)
